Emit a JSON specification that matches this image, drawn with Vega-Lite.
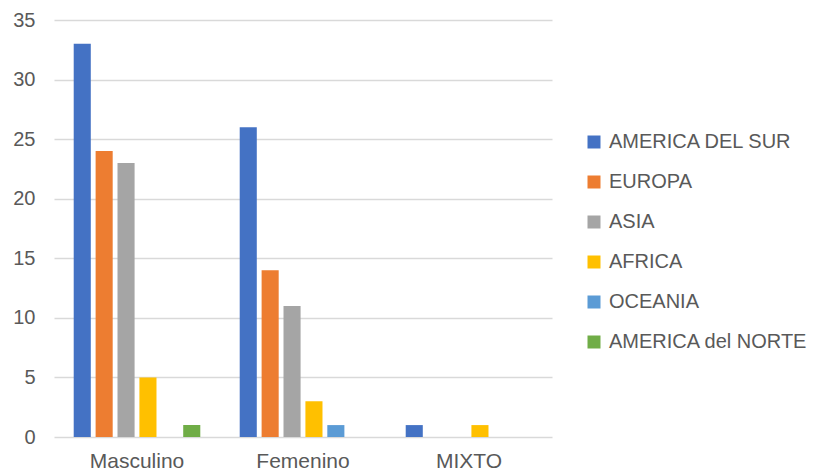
{
  "$schema": "https://vega.github.io/schema/vega-lite/v6.json",
  "width": 498,
  "height": 417,
  "autosize": "none",
  "padding": {"left": 54, "top": 20, "right": 261, "bottom": 38},
  "background": "white",
  "config": {
    "view": {"stroke": null},
    "font": "Liberation Sans"
  },
  "data": {
    "values": [
      {"grupo": "Masculino", "region": "AMERICA DEL SUR", "valor": 33},
      {"grupo": "Masculino", "region": "EUROPA", "valor": 24},
      {"grupo": "Masculino", "region": "ASIA", "valor": 23},
      {"grupo": "Masculino", "region": "AFRICA", "valor": 5},
      {"grupo": "Masculino", "region": "OCEANIA", "valor": 0},
      {"grupo": "Masculino", "region": "AMERICA del NORTE", "valor": 1},
      {"grupo": "Femenino", "region": "AMERICA DEL SUR", "valor": 26},
      {"grupo": "Femenino", "region": "EUROPA", "valor": 14},
      {"grupo": "Femenino", "region": "ASIA", "valor": 11},
      {"grupo": "Femenino", "region": "AFRICA", "valor": 3},
      {"grupo": "Femenino", "region": "OCEANIA", "valor": 1},
      {"grupo": "Femenino", "region": "AMERICA del NORTE", "valor": 0},
      {"grupo": "MIXTO", "region": "AMERICA DEL SUR", "valor": 1},
      {"grupo": "MIXTO", "region": "EUROPA", "valor": 0},
      {"grupo": "MIXTO", "region": "ASIA", "valor": 0},
      {"grupo": "MIXTO", "region": "AFRICA", "valor": 1},
      {"grupo": "MIXTO", "region": "OCEANIA", "valor": 0},
      {"grupo": "MIXTO", "region": "AMERICA del NORTE", "valor": 0}
    ]
  },
  "mark": {"type": "bar"},
  "encoding": {
    "x": {
      "field": "grupo",
      "type": "nominal",
      "sort": ["Masculino", "Femenino", "MIXTO"],
      "scale": {"paddingInner": 0, "paddingOuter": 0},
      "axis": {
        "title": null,
        "labelAngle": 0,
        "labelFontSize": 21,
        "labelColor": "#595959",
        "labelPadding": 13,
        "ticks": false,
        "domain": false,
        "grid": false
      }
    },
    "xOffset": {
      "field": "region",
      "type": "nominal",
      "sort": ["AMERICA DEL SUR", "EUROPA", "ASIA", "AFRICA", "OCEANIA", "AMERICA del NORTE"],
      "scale": {"paddingInner": 0.22, "paddingOuter": 0.9}
    },
    "y": {
      "field": "valor",
      "type": "quantitative",
      "scale": {"domain": [0, 35], "nice": false},
      "axis": {
        "title": null,
        "values": [0, 5, 10, 15, 20, 25, 30, 35],
        "labelFontSize": 20,
        "labelColor": "#595959",
        "labelPadding": 19,
        "ticks": false,
        "domain": false,
        "gridColor": "#d9d9d9",
        "gridWidth": 1.5
      }
    },
    "color": {
      "field": "region",
      "type": "nominal",
      "sort": ["AMERICA DEL SUR", "EUROPA", "ASIA", "AFRICA", "OCEANIA", "AMERICA del NORTE"],
      "scale": {
        "domain": ["AMERICA DEL SUR", "EUROPA", "ASIA", "AFRICA", "OCEANIA", "AMERICA del NORTE"],
        "range": ["#4472C4", "#ED7D31", "#A5A5A5", "#FFC000", "#5B9BD5", "#70AD47"]
      },
      "legend": {
        "title": null,
        "orient": "none",
        "legendX": 530,
        "legendY": 112,
        "symbolType": "square",
        "symbolSize": 169,
        "symbolStrokeWidth": 0,
        "labelFontSize": 20,
        "labelLimit": 300,
        "labelColor": "#595959",
        "labelOffset": 5,
        "rowPadding": 20
      }
    }
  }
}
